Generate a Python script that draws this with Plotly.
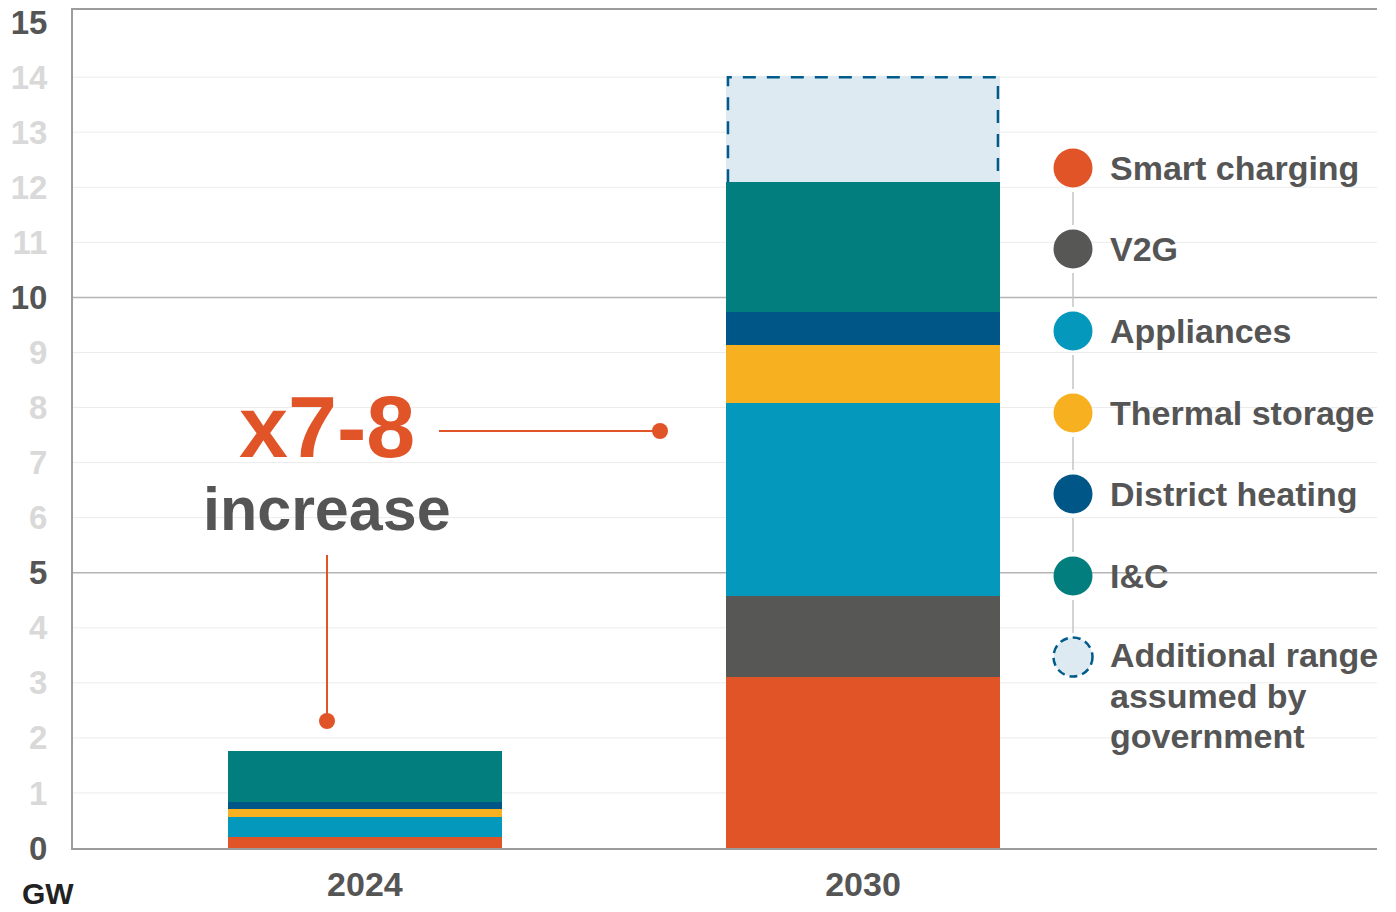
import plotly.graph_objects as go

# ---------------- data ----------------
years = ["2024", "2030"]
segment_names = ["Smart charging", "V2G", "Appliances", "Thermal storage",
                 "District heating", "I&C"]
smart_charging = [0.20, 3.11]
v2g = [0.00, 1.47]
appliances = [0.37, 3.51]
thermal_storage = [0.13, 1.05]
district_heating = [0.13, 0.60]
i_and_c = [0.93, 2.35]
additional_range = [0.00, 1.93]
additional_label_lines = ["Additional range", "assumed by", "government"]

segment_values = [smart_charging, v2g, appliances, thermal_storage,
                  district_heating, i_and_c]
segment_colors = ["#e05428", "#575756", "#0398bc", "#f6b020", "#005687", "#037e7e"]
additional_fill = "#deeaf2"
additional_edge = "#005a8a"

y_ticks = list(range(0, 16))
major_ticks = [0, 5, 10, 15]

FONT = "Liberation Sans"
W, H = 1396, 912
L, R, T, B = 73, 19, 10, 64
BAR_W = 0.55

xpos = list(range(len(years)))

fig = go.Figure()
for name, vals, col in zip(segment_names, segment_values, segment_colors):
    fig.add_trace(go.Bar(x=xpos, y=vals, name=name, width=BAR_W,
                         marker=dict(color=col, line=dict(width=0)),
                         showlegend=False))
fig.add_trace(go.Bar(x=xpos, y=additional_range, name="Additional range", width=BAR_W,
                     marker=dict(color=additional_fill, line=dict(width=0)),
                     showlegend=False))

# dashed outline of the additional range (open at the bottom)
for i, add in enumerate(additional_range):
    if add > 0:
        base = sum(v[i] for v in segment_values)
        top = base + add
        x0, x1 = xpos[i] - BAR_W / 2 + 0.004, xpos[i] + BAR_W / 2 - 0.004
        fig.add_trace(go.Scatter(x=[x0, x0, x1, x1], y=[base, top - 0.02, top - 0.02, base],
                                 mode="lines", showlegend=False, hoverinfo="skip",
                                 line=dict(color=additional_edge, width=2.5, dash="13px,11px")))

def px_x(px):
    return (px - L) / (W - L - R)

def px_y(py):
    return (H - B - py) / (H - T - B)

shapes = []
# gridlines
for v in y_ticks[1:-1]:
    shapes.append(dict(type="line", xref="paper", x0=0, x1=1, yref="y", y0=v, y1=v,
                       layer="below",
                       line=dict(color="#b4b4b4" if v in major_ticks else "#ececec",
                                 width=1.5 if v in major_ticks else 1)))

# annotation lines and dots
ORANGE = "#e05428"
shapes.append(dict(type="line", xref="paper", yref="paper",
                   x0=px_x(439), x1=px_x(660), y0=px_y(431), y1=px_y(431),
                   line=dict(color=ORANGE, width=2)))
shapes.append(dict(type="line", xref="paper", yref="paper",
                   x0=px_x(327), x1=px_x(327), y0=px_y(555), y1=px_y(721),
                   line=dict(color=ORANGE, width=2)))
for cx, cy in [(660, 431), (327, 721)]:
    shapes.append(dict(type="circle", xref="paper", yref="paper",
                       xsizemode="pixel", ysizemode="pixel",
                       xanchor=px_x(cx), yanchor=px_y(cy),
                       x0=-8, x1=8, y0=-8, y1=8,
                       fillcolor=ORANGE, line=dict(width=0)))

# custom legend
leg_x = 1073
leg_y = [168, 249, 331, 413, 494, 576, 657]
leg_colors = segment_colors + [additional_fill]
for i, (cy, col) in enumerate(zip(leg_y, leg_colors)):
    if i < len(leg_y) - 1:
        shapes.append(dict(type="line", xref="paper", yref="paper",
                           x0=px_x(leg_x), x1=px_x(leg_x),
                           y0=px_y(cy + 24), y1=px_y(leg_y[i + 1] - 24),
                           line=dict(color="#c4c4c4", width=1.5)))
    is_add = (i == len(leg_y) - 1)
    shapes.append(dict(type="circle", xref="paper", yref="paper",
                       xsizemode="pixel", ysizemode="pixel",
                       xanchor=px_x(leg_x), yanchor=px_y(cy),
                       x0=-19.5, x1=19.5, y0=-19.5, y1=19.5,
                       fillcolor=col,
                       line=dict(color=additional_edge, width=2.5, dash="8px,5px") if is_add
                       else dict(width=0)))

LEG_FONT = dict(family=FONT, size=34, color="#555555", weight="bold")
annotations = []
for cy, nm in zip(leg_y[:-1], segment_names):
    annotations.append(dict(xref="paper", yref="paper", x=px_x(1108), y=px_y(cy),
                            xanchor="left", yanchor="middle", text=nm, showarrow=False,
                            align="left", font=LEG_FONT))
for j, line_txt in enumerate(additional_label_lines):
    annotations.append(dict(xref="paper", yref="paper", x=px_x(1108),
                            y=px_y(leg_y[-1] - 2 + 40.5 * j),
                            xanchor="left", yanchor="middle", text=line_txt,
                            showarrow=False, align="left", font=LEG_FONT))

annotations.append(dict(xref="paper", yref="paper", x=px_x(327), y=px_y(427),
                        xanchor="center", yanchor="middle", text="x7-8", showarrow=False,
                        font=dict(family=FONT, size=88, color=ORANGE, weight="bold")))
annotations.append(dict(xref="paper", yref="paper", x=px_x(327), y=px_y(509),
                        xanchor="center", yanchor="middle", text="increase", showarrow=False,
                        font=dict(family=FONT, size=61, color="#555555", weight="bold")))
annotations.append(dict(xref="paper", yref="paper", x=px_x(20), y=px_y(894),
                        xanchor="left", yanchor="middle", text="GW", showarrow=False,
                        font=dict(family=FONT, size=30, color="#222222", weight="bold")))

tick_text = [
    f'<span style="color:{"#555555" if v in major_ticks else "#d9d9d9"}">{v}</span>'
    for v in y_ticks
]

fig.update_layout(
    width=W, height=H,
    margin=dict(l=L, r=R, t=T, b=B, pad=0, autoexpand=False),
    paper_bgcolor="white", plot_bgcolor="white",
    barmode="stack", bargap=0,
    showlegend=False,
    shapes=shapes, annotations=annotations,
    xaxis=dict(range=[-0.586, 2.032], tickvals=xpos, ticktext=years,
               showgrid=False, zeroline=False, showline=True, mirror=True,
               linecolor="#9c9c9c", linewidth=2, ticks="", automargin=False,
               ticklabelstandoff=5,
               tickfont=dict(family=FONT, size=34, color="#555555", weight="bold")),
    yaxis=dict(range=[0, 15.22], tickvals=y_ticks, ticktext=tick_text,
               showgrid=False, zeroline=False, showline=True, automargin=False,
               linecolor="#9c9c9c", linewidth=2, ticks="",
               ticklabelstandoff=17,
               tickfont=dict(family=FONT, size=33, color="#555555", weight="bold")),
)

fig.write_html("out.html")
